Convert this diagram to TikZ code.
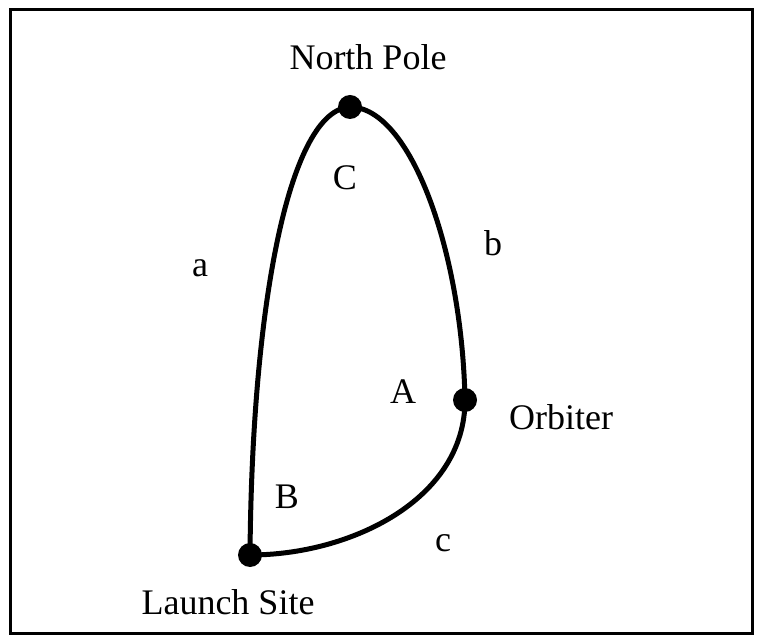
\documentclass[tikz,border=0pt]{standalone}
\usepackage{fontspec}
\setmainfont{Liberation Serif}
\begin{document}
\begin{tikzpicture}[x=0.5pt, y=-0.5pt, font=\fontsize{18}{22}\selectfont,
    dot/.style={circle, fill=black, inner sep=0pt, minimum size=12pt},
    arc/.style={line width=2.5pt},
    lbl/.style={inner sep=1pt}]
  \useasboundingbox (0,0) rectangle (760,641);
  \draw[line width=1.5pt] (10,10) rectangle (752,633);
  % corners of the triangle
  \node[dot] (np) at (350,107) {};
  \node[dot] (orb) at (465,400) {};
  \node[dot] (ls) at (250,555) {};
  % sides
  \draw[arc] (ls.center) .. controls (252,300) and (290,110) .. (np.center);
  \draw[arc] (np.center) .. controls (410,107) and (462,250) .. (orb.center);
  \draw[arc] (orb.center) .. controls (465,500) and (350,555) .. (ls.center);
  % names
  \node[lbl] (npname) at (368,57) {North Pole};
  \node[lbl] (orbname) at (561,417) {Orbiter};
  \node[lbl] (lsname) at (228,602) {Launch Site};
  \node[lbl] (angC) at (345,178) {C};
  \node[lbl] (angA) at (403,392) {A};
  \node[lbl] (angB) at (287,497) {B};
  \node[lbl] (sidea) at (200,268) {a};
  \node[lbl] (sideb) at (493,243) {b};
  \node[lbl] (sidec) at (443,543) {c};
\end{tikzpicture}
\end{document}
